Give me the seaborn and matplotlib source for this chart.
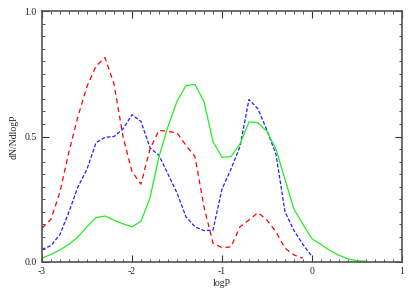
import numpy as np
import pandas as pd
import seaborn as sns
import matplotlib.pyplot as plt
from matplotlib.ticker import MultipleLocator, FormatStrFormatter

# logP grid (0.1 steps) and the three distributions
logp_green = [-3.0, -2.9, -2.8, -2.7, -2.6, -2.5, -2.4, -2.3, -2.2, -2.1, -2.0,
              -1.9, -1.8, -1.7, -1.6, -1.5, -1.4, -1.3, -1.2, -1.1, -1.0,
              -0.9, -0.8, -0.7, -0.6, -0.5, -0.4, -0.3, -0.2, -0.1, 0.0,
              0.1, 0.2, 0.3, 0.4, 0.5, 0.6]
green = [0.015, 0.03, 0.048, 0.07, 0.10, 0.14, 0.177, 0.183, 0.167, 0.152, 0.140,
         0.162, 0.255, 0.42, 0.54, 0.64, 0.703, 0.708, 0.64, 0.48, 0.417,
         0.42, 0.47, 0.558, 0.555, 0.52, 0.45, 0.33, 0.21, 0.15, 0.092,
         0.07, 0.045, 0.027, 0.012, 0.005, 0.003]

logp_blue = [-3.0, -2.9, -2.8, -2.7, -2.6, -2.5, -2.4, -2.3, -2.2, -2.1, -2.0,
             -1.9, -1.8, -1.7, -1.6, -1.5, -1.4, -1.3, -1.2, -1.1, -1.0,
             -0.9, -0.8, -0.7, -0.6, -0.5, -0.4, -0.3, -0.2, -0.1, 0.0]
blue = [0.05, 0.065, 0.11, 0.20, 0.30, 0.37, 0.475, 0.497, 0.50, 0.53, 0.587,
        0.56, 0.455, 0.425, 0.35, 0.275, 0.18, 0.14, 0.125, 0.127, 0.29,
        0.37, 0.46, 0.648, 0.61, 0.525, 0.43, 0.20, 0.125, 0.07, 0.022]

logp_red = [-3.0, -2.9, -2.8, -2.7, -2.6, -2.5, -2.4, -2.3, -2.2, -2.1, -2.0,
            -1.9, -1.8, -1.7, -1.6, -1.5, -1.4, -1.3, -1.2, -1.1, -1.0,
            -0.9, -0.8, -0.7, -0.6, -0.5, -0.4, -0.3, -0.2, -0.1]
red = [0.135, 0.17, 0.28, 0.44, 0.58, 0.70, 0.78, 0.815, 0.71, 0.50, 0.36,
       0.31, 0.45, 0.525, 0.52, 0.515, 0.465, 0.42, 0.22, 0.075, 0.057,
       0.06, 0.14, 0.167, 0.197, 0.167, 0.12, 0.055, 0.028, 0.015]

sns.set_style("ticks")
plt.rcParams['font.family'] = ['Liberation Serif', 'DejaVu Serif']
plt.rcParams['axes.unicode_minus'] = False

fig = plt.figure(figsize=(4.2, 2.93), dpi=100)
ax = fig.add_axes([0.1, 0.106, 0.857, 0.856])

sns.lineplot(x=logp_red, y=red, ax=ax, color="#ff0000", lw=0.9,
             linestyle=(0, (4, 3)))
sns.lineplot(x=logp_blue, y=blue, ax=ax, color="#2020ff", lw=0.9,
             linestyle=(0, (3, 1.5)))
sns.lineplot(x=logp_green, y=green, ax=ax, color="#22ee22", lw=0.9)

ax.set_xlim(-3, 1)
ax.set_ylim(0, 1)
ax.xaxis.set_major_locator(MultipleLocator(1))
ax.xaxis.set_minor_locator(MultipleLocator(0.1))
ax.yaxis.set_major_locator(MultipleLocator(0.5))
ax.yaxis.set_minor_locator(MultipleLocator(0.05))
ax.xaxis.set_major_formatter(FormatStrFormatter("%g"))
ax.yaxis.set_major_formatter(FormatStrFormatter("%.1f"))
ax.tick_params(which="both", direction="in", top=True, right=True,
               labelsize=7, color="#333333")
ax.tick_params(which="major", length=5, width=0.8, pad=4)
ax.tick_params(which="minor", length=2.5, width=0.6)
for s in ax.spines.values():
    s.set_linewidth(1.2)
    s.set_color("#555555")

ax.set_xlabel("logP", fontsize=7, labelpad=2)
ax.set_ylabel("dN/NdlogP", fontsize=7, labelpad=4)

fig.savefig("out.png", dpi=100)
